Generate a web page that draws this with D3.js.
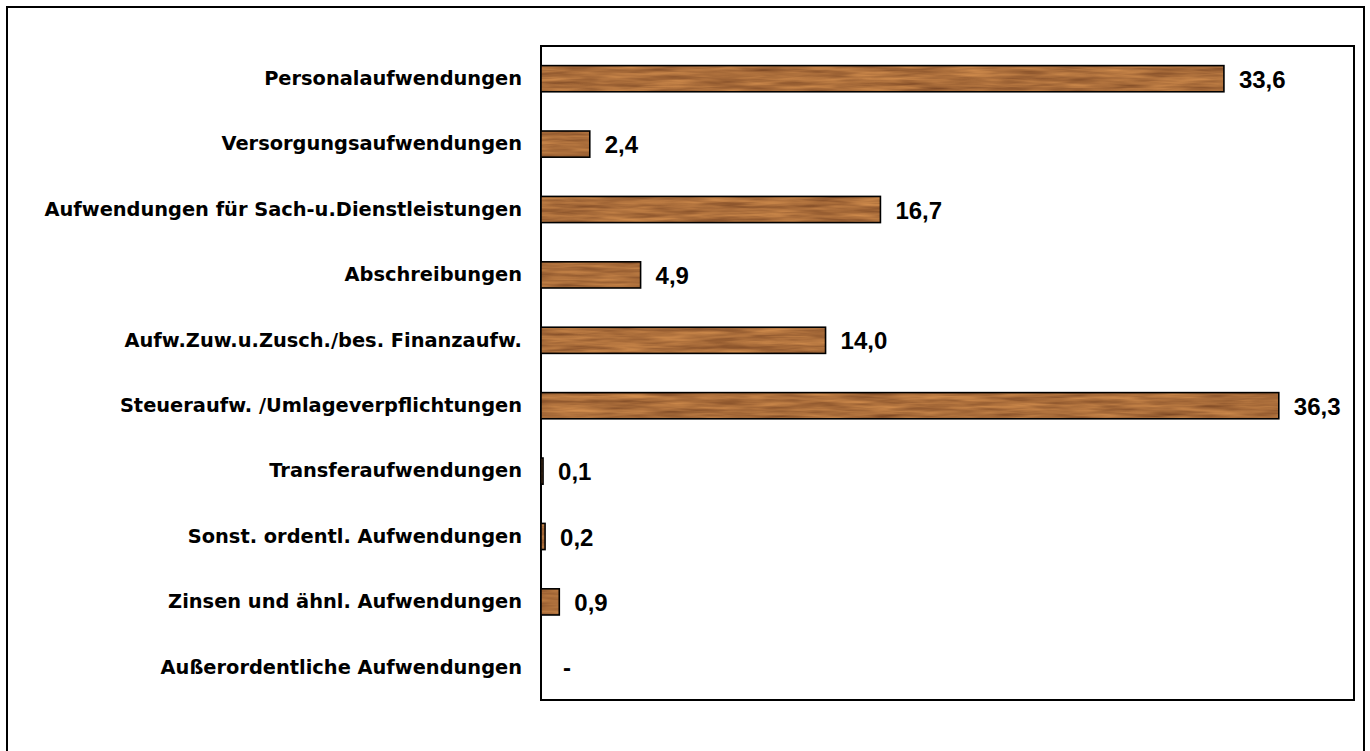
<!DOCTYPE html>
<html><head><meta charset="utf-8">
<script src="https://cdn.jsdelivr.net/npm/d3@7"></script>
<style>
html,body{margin:0;padding:0;background:#fff;}
svg{display:block;}
</style></head>
<body>
<svg id="c" width="1370" height="751"></svg>
<script>
const categories = [
  "Personalaufwendungen",
  "Versorgungsaufwendungen",
  "Aufwendungen für Sach-u.Dienstleistungen",
  "Abschreibungen",
  "Aufw.Zuw.u.Zusch./bes. Finanzaufw.",
  "Steueraufw. /Umlageverpflichtungen",
  "Transferaufwendungen",
  "Sonst. ordentl. Aufwendungen",
  "Zinsen und ähnl. Aufwendungen",
  "Außerordentliche Aufwendungen"
];
const values = [33.6, 2.4, 16.7, 4.9, 14.0, 36.3, 0.1, 0.2, 0.9, 0];
const valueLabels = ["33,6", "2,4", "16,7", "4,9", "14,0", "36,3", "0,1", "0,2", "0,9", "-"];
const xDomain = [0, 40];

const svg = d3.select("#c");
const plot = {left: 541, top: 46, right: 1354, bottom: 700};

// outer frame
svg.append("rect").attr("x", 7).attr("y", 7).attr("width", 1357).attr("height", 760)
  .attr("fill", "none").attr("stroke", "#000").attr("stroke-width", 2);

const defs = svg.append("defs");
const f = defs.append("filter").attr("id", "wood").attr("x", 0).attr("y", 0).attr("width", 1).attr("height", 1)
  .attr("filterUnits", "objectBoundingBox").attr("color-interpolation-filters", "sRGB");
f.append("feTurbulence").attr("type", "fractalNoise").attr("baseFrequency", "0.02 0.22")
  .attr("numOctaves", 3).attr("seed", 7).attr("result", "noise");
f.append("feColorMatrix").attr("in", "noise").attr("type", "matrix")
  .attr("values", "0.42 0 0 0 0.46  0.34 0 0 0 0.26  0.2 0 0 0 0.13  0 0 0 0 1").attr("result", "col");
f.append("feComposite").attr("in", "col").attr("in2", "SourceGraphic").attr("operator", "in");

const x = d3.scaleLinear().domain(xDomain).range([plot.left, plot.right]);
const y = d3.scaleBand().domain(categories).range([plot.top, plot.bottom]).paddingInner(0.6).paddingOuter(0.3);

// plot frame
svg.append("rect").attr("x", plot.left).attr("y", plot.top)
  .attr("width", plot.right - plot.left).attr("height", plot.bottom - plot.top)
  .attr("fill", "none").attr("stroke", "#000").attr("stroke-width", 2);

const g = svg.append("g");
const rows = categories.map((c, i) => ({c, v: values[i], l: valueLabels[i]}));

g.selectAll("rect.fill").data(rows.filter(d => d.v > 0)).join("rect")
  .attr("class", "fill")
  .attr("x", x(0)).attr("y", d => y(d.c))
  .attr("width", d => x(d.v) - x(0)).attr("height", y.bandwidth())
  .attr("fill", "#a8683a").attr("filter", "url(#wood)");
g.selectAll("rect.edge").data(rows.filter(d => d.v > 0)).join("rect")
  .attr("class", "edge")
  .attr("x", x(0)).attr("y", d => y(d.c))
  .attr("width", d => Math.max(x(d.v) - x(0), 0.5)).attr("height", y.bandwidth())
  .attr("fill", "none").attr("stroke", "#000").attr("stroke-width", 1.6);

// category labels
const yAxis = d3.axisLeft(y).tickSize(0).tickPadding(19);
const ax = svg.append("g").attr("transform", `translate(${plot.left},0)`).call(yAxis);
ax.select(".domain").remove();
ax.selectAll("text").attr("font-family", "DejaVu Sans, Verdana, sans-serif")
  .attr("font-weight", "bold").attr("font-size", 19.4).attr("fill", "#000");

// value labels
g.selectAll("text.val").data(rows).join("text")
  .attr("class", "val")
  .attr("x", d => x(d.v) + (d.v > 0 ? 15 : 22))
  .attr("y", d => y(d.c) + y.bandwidth() / 2 + 9)
  .attr("font-family", "Liberation Sans, Arial, sans-serif")
  .attr("font-weight", "bold").attr("font-size", 24).attr("fill", "#000")
  .text(d => d.l);
</script>
</body></html>
